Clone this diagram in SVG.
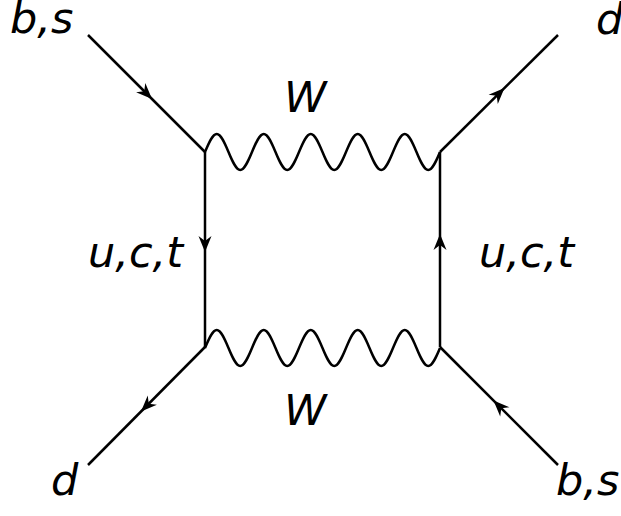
<svg xmlns="http://www.w3.org/2000/svg" xmlns:xlink="http://www.w3.org/1999/xlink" width="621" height="516" viewBox="0 0 621 516">
<style>
.ln{fill:none;stroke:#000;stroke-width:2.5;stroke-linecap:butt}
.lbl{font-family:"DejaVu Sans","Liberation Sans",sans-serif;font-style:italic;font-size:43px;fill:#000}
</style>
<defs>
<path id="arr" d="M0,0 L-16,-6.5 L-11,0 L-16,6.5 Z" fill="#000"/>
</defs>
<rect width="621" height="516" fill="#fff"/>
<g id="connectors">
<path class="ln" d="M88,35 L205,152"/>
<path class="ln" d="M440,152 L558,35"/>
<path class="ln" d="M205,347 L88,465"/>
<path class="ln" d="M558,465 L440,347"/>
<path class="ln" d="M205,152 L205,347"/>
<path class="ln" d="M440,152 L440,347"/>
<path class="ln" d="M205,152 c 3.832,-9.22 7.497,-18 11.75,-18 c 4.253,0 7.918,8.78 11.75,18 c 3.832,9.22 7.497,18 11.75,18 c 4.253,0 7.918,-8.78 11.75,-18 c 3.832,-9.22 7.497,-18 11.75,-18 c 4.253,0 7.918,8.78 11.75,18 c 3.832,9.22 7.497,18 11.75,18 c 4.253,0 7.918,-8.78 11.75,-18 c 3.832,-9.22 7.497,-18 11.75,-18 c 4.253,0 7.918,8.78 11.75,18 c 3.832,9.22 7.497,18 11.75,18 c 4.253,0 7.918,-8.78 11.75,-18 c 3.832,-9.22 7.497,-18 11.75,-18 c 4.253,0 7.918,8.78 11.75,18 c 3.832,9.22 7.497,18 11.75,18 c 4.253,0 7.918,-8.78 11.75,-18 c 3.832,-9.22 7.497,-18 11.75,-18 c 4.253,0 7.918,8.78 11.75,18 c 3.832,9.22 7.497,18 11.75,18 c 4.253,0 7.918,-8.78 11.75,-18"/>
<path class="ln" d="M205,348 c 3.832,-9.22 7.497,-18 11.75,-18 c 4.253,0 7.918,8.78 11.75,18 c 3.832,9.22 7.497,18 11.75,18 c 4.253,0 7.918,-8.78 11.75,-18 c 3.832,-9.22 7.497,-18 11.75,-18 c 4.253,0 7.918,8.78 11.75,18 c 3.832,9.22 7.497,18 11.75,18 c 4.253,0 7.918,-8.78 11.75,-18 c 3.832,-9.22 7.497,-18 11.75,-18 c 4.253,0 7.918,8.78 11.75,18 c 3.832,9.22 7.497,18 11.75,18 c 4.253,0 7.918,-8.78 11.75,-18 c 3.832,-9.22 7.497,-18 11.75,-18 c 4.253,0 7.918,8.78 11.75,18 c 3.832,9.22 7.497,18 11.75,18 c 4.253,0 7.918,-8.78 11.75,-18 c 3.832,-9.22 7.497,-18 11.75,-18 c 4.253,0 7.918,8.78 11.75,18 c 3.832,9.22 7.497,18 11.75,18 c 4.253,0 7.918,-8.78 11.75,-18"/>
<use xlink:href="#arr" href="#arr" transform="translate(152,99) rotate(45)"/>
<use xlink:href="#arr" href="#arr" transform="translate(504.5,88) rotate(-45)"/>
<use xlink:href="#arr" href="#arr" transform="translate(141,411.5) rotate(135)"/>
<use xlink:href="#arr" href="#arr" transform="translate(493.5,400.5) rotate(-135)"/>
<use xlink:href="#arr" href="#arr" transform="translate(205,252) rotate(90)"/>
<use xlink:href="#arr" href="#arr" transform="translate(440,234) rotate(-90)"/>
</g>
<g id="label-bs-in"><text class="lbl" x="10" y="33">b,s</text></g>
<g id="label-d-out"><text class="lbl" x="596" y="34">d</text></g>
<g id="label-W-top"><text class="lbl" x="284" y="112">W</text></g>
<g id="label-uct-left"><text class="lbl" x="88" y="267">u,c,t</text></g>
<g id="label-uct-right"><text class="lbl" x="479" y="267">u,c,t</text></g>
<g id="label-W-bottom"><text class="lbl" x="284" y="425">W</text></g>
<g id="label-d-bottom"><text class="lbl" x="51" y="495">d</text></g>
<g id="label-bs-bottom"><text class="lbl" x="556" y="495">b,s</text></g>
</svg>
